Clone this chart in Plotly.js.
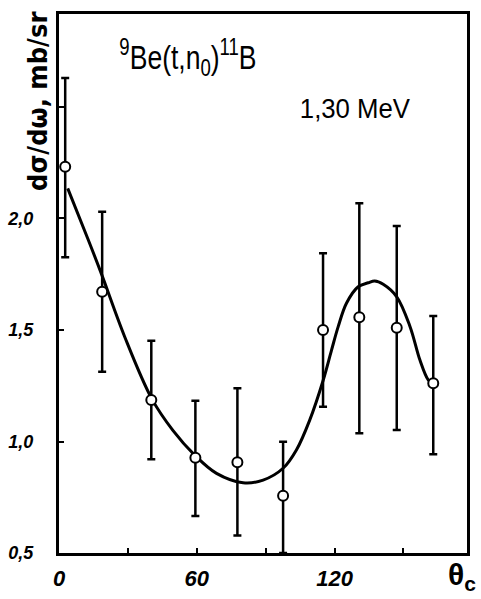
<!DOCTYPE html>
<html>
<head>
<meta charset="utf-8">
<script src="https://cdn.plot.ly/plotly-3.0.1.min.js"></script>
<style>
  html, body { margin: 0; padding: 0; background: #fff; }
  #chart { width: 481px; height: 599px; }
  .squeeze { transform-box: fill-box; transform-origin: center; }
</style>
</head>
<body>
<div id="chart"></div>
<script>
// Measured points (angle in c.m. degrees, cross section mb/sr)
const angles   = [2.7, 18.8, 40.2, 59.4, 77.7, 97.6, 115.0, 130.8, 147.1, 163.0];
const sigma    = [2.232, 1.672, 1.186, 0.927, 0.907, 0.757, 1.500, 1.557, 1.510, 1.261];
const errUpper = [2.63, 2.03, 1.452, 1.183, 1.239, 0.999, 1.844, 2.068, 1.966, 1.563];
const errLower = [1.826, 1.313, 0.92, 0.666, 0.578, 0.50, 1.156, 1.037, 1.052, 0.943];

// Smooth fitted curve
const curveAngles = [3.8, 12.6, 18.4, 28.6, 40.5, 49.6, 59.1, 68.6, 80.2, 88.9, 97.6, 103.4, 109.2, 115.1, 118.7, 121.6, 125.2, 130.3, 134.7, 137.5, 141.2, 147.1, 152.9, 157.2, 160.8, 163.0];
const curveSigma  = [2.135, 1.908, 1.754, 1.47, 1.19, 1.05, 0.939, 0.857, 0.815, 0.827, 0.88, 0.962, 1.096, 1.276, 1.41, 1.515, 1.62, 1.694, 1.712, 1.72, 1.705, 1.649, 1.515, 1.365, 1.276, 1.258];

// Axis ticks
const xTickVals = [0, 30, 60, 90, 120, 150];
const xTickText = ["0", "", "60", "", "120", ""];
const yTickVals = [0.5, 1.0, 1.5, 2.0, 2.5];
const yTickText = ["0,5", "1,0", "1,5", "2,0", ""];

const FONT = '"Liberation Sans", Arial, sans-serif';
const CONDENSED = '"DejaVu Sans Condensed", "DejaVu Sans", sans-serif';

const plus  = errUpper.map((u, i) => u - sigma[i]);
const minus = errLower.map((l, i) => sigma[i] - l);

const traces = [
  {
    x: curveAngles, y: curveSigma, type: 'scatter', mode: 'lines',
    line: { color: '#000', width: 3, shape: 'spline', smoothing: 1 },
    hoverinfo: 'skip', showlegend: false
  },
  {
    x: angles, y: sigma, type: 'scatter', mode: 'markers',
    marker: { symbol: 'circle', size: 10, color: '#fff', line: { color: '#000', width: 2 } },
    error_y: { type: 'data', symmetric: false, array: plus, arrayminus: minus,
               color: '#000', thickness: 2.5, width: 4 },
    showlegend: false
  }
];

const px = v => (v - 59) / 408;     // pixel x -> paper
const py = v => (553 - v) / 539;    // pixel y -> paper

const layout = {
  width: 481, height: 599,
  margin: { l: 59, r: 14, t: 14, b: 46 },
  paper_bgcolor: '#fff', plot_bgcolor: '#fff',
  showlegend: false,
  xaxis: {
    range: [0, 177.7], showgrid: false, zeroline: false,
    showline: true, linecolor: '#000', linewidth: 3, mirror: true,
    tickvals: xTickVals, ticktext: xTickText,
    ticks: 'inside', ticklen: 5, tickwidth: 2, tickcolor: '#000',
    ticklabelstandoff: 4,
    tickfont: { family: FONT, size: 22, color: '#000', style: 'italic', weight: 'bold' }
  },
  yaxis: {
    range: [0.5, 2.917], showgrid: false, zeroline: false,
    showline: true, linecolor: '#000', linewidth: 3, mirror: true,
    tickvals: yTickVals, ticktext: yTickText,
    ticks: 'inside', ticklen: 5, tickwidth: 2, tickcolor: '#000',
    ticklabelstandoff: 19,
    tickfont: { family: FONT, size: 18, color: '#000', style: 'italic', weight: 'bold' }
  },
  annotations: [
    {
      text: 'dσ/dω, mb/sr', textangle: -90,
      xref: 'paper', yref: 'paper', x: px(38), y: py(102),
      xanchor: 'center', yanchor: 'middle', showarrow: false,
      font: { family: CONDENSED, size: 27, color: '#000', weight: 'bold' }
    },
    {
      text: '<sup>9</sup>Be(t,n<sub>0</sub>)<sup>11</sup>B',
      xref: 'paper', yref: 'paper', x: px(188), y: py(57),
      xanchor: 'center', yanchor: 'middle', showarrow: false,
      font: { family: FONT, size: 34, color: '#000' }
    },
    {
      text: '1,30 MeV',
      xref: 'paper', yref: 'paper', x: px(355), y: py(108),
      xanchor: 'center', yanchor: 'middle', showarrow: false,
      font: { family: FONT, size: 28, color: '#000' }
    },
    {
      text: 'θ<sub>c</sub>',
      xref: 'paper', yref: 'paper', x: px(478), y: py(577),
      xanchor: 'right', yanchor: 'middle', showarrow: false,
      font: { family: FONT, size: 30, color: '#000', weight: 'bold' }
    }
  ]
};

Plotly.newPlot('chart', traces, layout, { staticPlot: true, displayModeBar: false }).then(gd => {
  // Condense the hand-lettered labels horizontally, as in the original drawing
  const scales = { 1: 0.78, 2: 0.92 };
  gd.querySelectorAll('g.annotation').forEach((g, i) => {
    if (scales[i]) {
      const t = g.querySelector('text.annotation-text');
      if (t) { t.classList.add('squeeze'); t.style.transform = 'scaleX(' + scales[i] + ')'; }
    }
  });
});
</script>
</body>
</html>
